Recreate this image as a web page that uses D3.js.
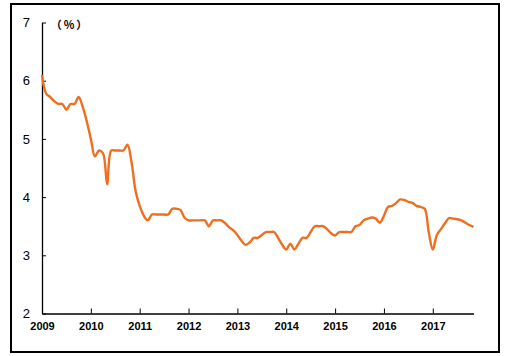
<!DOCTYPE html>
<html><head><meta charset="utf-8">
<script src="https://cdn.jsdelivr.net/npm/d3@7/dist/d3.min.js"></script>
<style>body{margin:0;background:#fff}svg{display:block}</style>
</head><body>
<svg id="c" width="505" height="356"></svg>
<script>
const startYear = 2009, startMonth = 0;
const values = [
  // 2009
  6.1, 5.78, 5.72, 5.65, 5.6, 5.6, 5.5, 5.6, 5.6, 5.72, 5.55, 5.3,
  // 2010
  5.0, 4.7, 4.8, 4.75, 4.22, 4.8, 4.8, 4.8, 4.8, 4.9, 4.6, 4.1,
  // 2011
  3.85, 3.68, 3.6, 3.7, 3.7, 3.7, 3.7, 3.7, 3.8, 3.8, 3.78, 3.65,
  // 2012
  3.6, 3.6, 3.6, 3.6, 3.6, 3.5, 3.6, 3.6, 3.6, 3.55, 3.48, 3.43,
  // 2013
  3.35, 3.25, 3.18, 3.22, 3.3, 3.3, 3.35, 3.4, 3.4, 3.4, 3.3, 3.18,
  // 2014
  3.1, 3.2, 3.1, 3.2, 3.3, 3.3, 3.4, 3.5, 3.5, 3.5, 3.45, 3.38,
  // 2015
  3.34, 3.4, 3.4, 3.4, 3.4, 3.5, 3.52, 3.6, 3.63, 3.65, 3.63, 3.56,
  // 2016
  3.68, 3.83, 3.85, 3.9, 3.96, 3.95, 3.92, 3.9, 3.85, 3.83, 3.8, 3.4,
  // 2017
  3.1, 3.35, 3.45, 3.55, 3.64, 3.63, 3.62, 3.6, 3.56, 3.52, 3.49
];
const yTicks = [2, 3, 4, 5, 6, 7];
const xTickYears = [2009, 2010, 2011, 2012, 2013, 2014, 2015, 2016, 2017];
const unitLabel = "（%）";

const svg = d3.select("#c");
const data = values.map((v, i) => ({ t: startYear + (startMonth + i) / 12, v }));

const x = d3.scaleLinear().domain([2009, 2017 + 10 / 12]).range([42, 473.5]);
const y = d3.scaleLinear().domain([2, 7]).range([313.5, 22.5]);

// outer frame
svg.append("rect").attr("x", 11).attr("y", 4).attr("width", 488).attr("height", 348)
  .attr("fill", "none").attr("stroke", "#000").attr("stroke-width", 2);

// y axis
const yAxis = svg.append("g").attr("transform", "translate(42,0)")
  .call(d3.axisLeft(y).tickValues(yTicks).tickFormat(d3.format("d")).tickSize(-4).tickSizeOuter(0));
yAxis.select(".domain").attr("stroke", "#000").attr("stroke-width", 1.3);
yAxis.selectAll(".tick line").attr("stroke", "#000");
yAxis.selectAll("text").attr("font-family", "Liberation Sans, Arial, sans-serif")
  .attr("font-size", 13).attr("fill", "#000").attr("x", -12);

// x axis
const xAxis = svg.append("g").attr("transform", "translate(0,313.5)")
  .call(d3.axisBottom(x).tickValues(xTickYears).tickFormat(d3.format("d")).tickSize(-5).tickPadding(9).tickSizeOuter(0));
xAxis.select(".domain").attr("stroke", "#000").attr("stroke-width", 1.3);
xAxis.selectAll(".tick line").attr("stroke", "#000");
xAxis.selectAll("text").attr("font-family", "Liberation Sans, Arial, sans-serif")
  .attr("font-size", 11).attr("font-weight", "bold").attr("fill", "#000");

// unit label
svg.append("text").attr("x", 70).attr("y", 29).attr("text-anchor", "middle")
  .style("font-family", "'Noto Sans CJK SC', 'Noto Sans CJK JP', sans-serif")
  .style("font-size", "11px").style("font-weight", "bold").style("letter-spacing", "2px")
  .text(unitLabel);

// line
const line = d3.line().x(d => x(d.t)).y(d => y(d.v)).curve(d3.curveCatmullRom.alpha(0.5));
svg.append("path").datum(data).attr("d", line).attr("fill", "none")
  .attr("stroke", "#EF6E1F").attr("stroke-width", 2.4).attr("stroke-linejoin", "round");
</script>
</body></html>
